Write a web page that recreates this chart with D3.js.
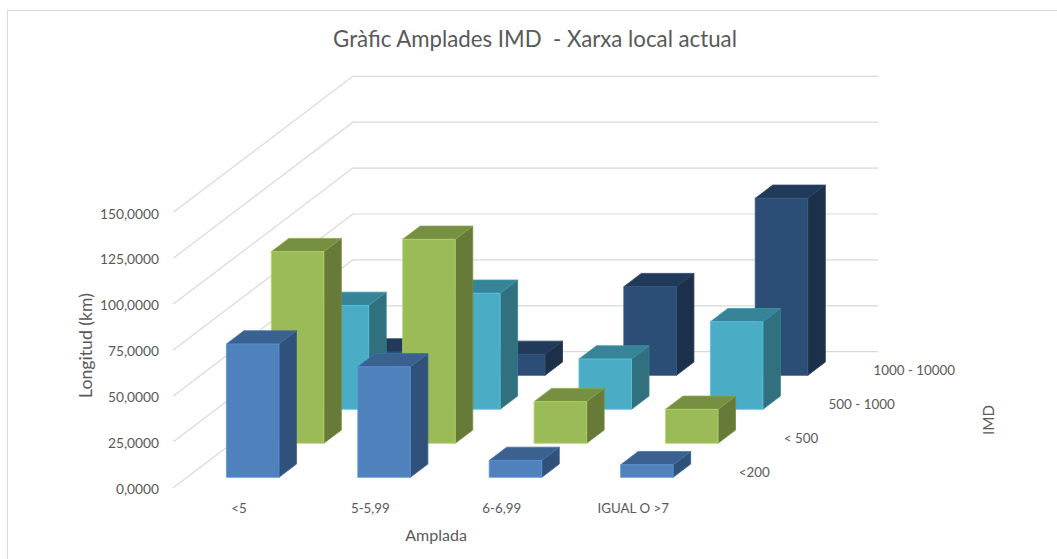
<!DOCTYPE html>
<html>
<head>
<meta charset="utf-8">
<script src="https://cdn.jsdelivr.net/npm/d3@7"></script>
<style>
  html, body { margin: 0; padding: 0; background: #fff; }
  svg { display: block; }
  text { font-family: Lato, "Open Sans", "Liberation Sans", sans-serif; fill: #595959; white-space: pre; }
</style>
</head>
<body>
<svg id="chart" width="1057" height="559"></svg>
<script>
// ---- data ----
const categories = ["<5", "5-5,99", "6-6,99", "IGUAL O >7"];
const seriesNames = ["<200", "< 500", "500 - 1000", "1000 - 10000"];
const seriesLt200 = [72.6, 60.2, 9.2, 6.8];
const seriesLt500 = [104.4, 111.1, 22.7, 18.5];
const series500to1000 = [56.6, 63.2, 27.4, 47.7];
const series1000to10000 = [12.7, 11.4, 48.3, 96.4];
const yTicks = [0, 25, 50, 75, 100, 125, 150];
const yTickLabels = ["0,0000", "25,0000", "50,0000", "75,0000", "100,0000", "125,0000", "150,0000"];
const titleText = "Gràfic Amplades IMD  - Xarxa local actual";
const xTitle = "Amplada";
const yTitle = "Longitud (km)";
const zTitle = "IMD";

const seriesValues = [seriesLt200, seriesLt500, series500to1000, series1000to10000];
const palette = [
  { front: "#4F81BD", top: "#3B6190", side: "#30527A" },
  { front: "#9BBB59", top: "#778F41", side: "#677A37" },
  { front: "#4BACC6", top: "#378398", side: "#31707F" },
  { front: "#2C4D75", top: "#213A59", side: "#1C304A" }
];

// ---- layout ----
const svg = d3.select("#chart");
const X0 = 173.3, X1 = 698.9;   // front floor left/right
const Y0 = 487.7;               // front floor baseline
const DX = 179.5, DY = 136;     // depth vector (full depth)
const H = 275.4;                // height for 0..150

const x = d3.scaleBand().domain(categories).range([X0, X1]).paddingInner(0.6).paddingOuter(0.3);
const z = d3.scaleBand().domain(seriesNames).range([0, 1]).paddingInner(0.61).paddingOuter(0.305);
const y = d3.scaleLinear().domain([0, 150]).range([0, H]);

function proj(px, v, d) { return [px + d * DX, Y0 - y(v) - d * DY]; }

// border
svg.append("rect").attr("x", 7.5).attr("y", 10.5).attr("width", 1200).attr("height", 700)
  .attr("fill", "none").attr("stroke", "#d9d9d9").attr("stroke-width", 1);

// gridlines (left wall + back wall)
const grid = svg.append("g").attr("stroke", "#d9d9d9").attr("stroke-width", 1.2).attr("fill", "none");
yTicks.forEach(t => {
  const a = proj(X0, t, 0), b = proj(X0, t, 1), c = proj(X1, t, 1);
  grid.append("path").attr("d", d3.line()([a, b, c]));
});

// bars, back to front
const bars = svg.append("g");
for (let s = seriesNames.length - 1; s >= 0; s--) {
  const vals = seriesValues[s];
  const col = palette[s];
  const d0 = z(seriesNames[s]), d1 = d0 + z.bandwidth();
  categories.forEach((c, i) => {
    const v = vals[i];
    const x0 = x(c), x1 = x0 + x.bandwidth();
    const g = bars.append("g").attr("stroke-width", 0.8).attr("stroke-linejoin", "round");
    const poly = pts => "M" + pts.map(p => p.join(",")).join("L") + "Z";
    g.append("path").attr("d", poly([proj(x1, 0, d0), proj(x1, 0, d1), proj(x1, v, d1), proj(x1, v, d0)]))
      .attr("fill", col.side).attr("stroke", d3.color(col.side).brighter(0.4));
    g.append("path").attr("d", poly([proj(x0, v, d0), proj(x1, v, d0), proj(x1, v, d1), proj(x0, v, d1)]))
      .attr("fill", col.top).attr("stroke", d3.color(col.top).brighter(0.4));
    g.append("path").attr("d", poly([proj(x0, 0, d0), proj(x1, 0, d0), proj(x1, v, d0), proj(x0, v, d0)]))
      .attr("fill", col.front).attr("stroke", d3.color(col.front).brighter(0.4));
  });
}

// font size that makes a given text the given width
function sizeFor(txt, width, base) {
  const t = svg.append("text").attr("font-size", base).text(txt);
  const w = t.node().getComputedTextLength();
  t.remove();
  return w > 0 ? base * width / w : base;
}

// title
svg.append("text").attr("x", 535).attr("y", 47).attr("text-anchor", "middle")
  .attr("font-size", sizeFor(titleText, 404, 19)).text(titleText);

// y tick labels
const tickFs = sizeFor("150,0000", 59, 13);
yTicks.forEach((t, i) => {
  const p = proj(X0, t, 0);
  svg.append("text").attr("x", 159).attr("y", p[1] + 0.7).attr("text-anchor", "end")
    .attr("dominant-baseline", "central").attr("font-size", tickFs).text(yTickLabels[i]);
});

// x category labels
const catFs = sizeFor("IGUAL O >7", 71.5, 13);
categories.forEach(c => {
  svg.append("text").attr("x", x(c) + x.bandwidth() / 2).attr("y", 508)
    .attr("text-anchor", "middle").attr("dominant-baseline", "central")
    .attr("font-size", catFs).text(c);
});

// series (depth) labels
const serFs = sizeFor("1000 - 10000", 81.7, 13);
seriesNames.forEach(s => {
  const dc = z(s) + z.bandwidth() / 2;
  const p = proj(X1, 0, dc);
  svg.append("text").attr("x", p[0] + 17.5).attr("y", p[1] + 1)
    .attr("dominant-baseline", "central").attr("font-size", serFs).text(s);
});

// axis titles
svg.append("text").attr("x", (X0 + X1) / 2).attr("y", 534).attr("text-anchor", "middle")
  .attr("dominant-baseline", "central").attr("font-size", sizeFor(xTitle, 61.7, 14)).text(xTitle);
svg.append("text").attr("transform", "translate(85,345.5) rotate(-90)").attr("text-anchor", "middle")
  .attr("dominant-baseline", "central").attr("font-size", sizeFor(yTitle, 105, 14)).text(yTitle);
svg.append("text").attr("transform", "translate(988,420) rotate(-90)").attr("text-anchor", "middle")
  .attr("dominant-baseline", "central").attr("font-size", sizeFor(zTitle, 30, 14)).text(zTitle);
</script>
</body>
</html>
